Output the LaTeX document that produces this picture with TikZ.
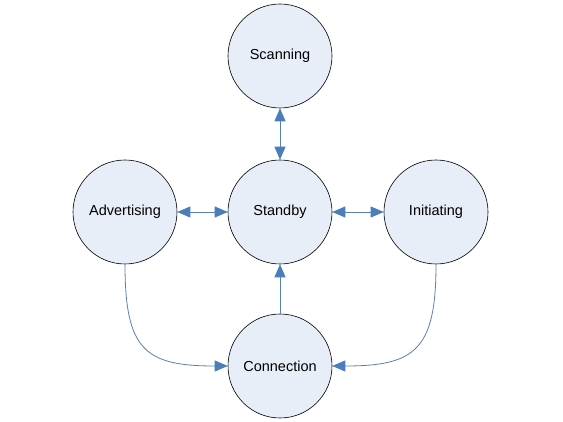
\documentclass[tikz,border=0pt]{standalone}
\usepackage{fontspec}
\setmainfont{Liberation Sans}
\usetikzlibrary{arrows.meta}
\definecolor{statefill}{HTML}{E8EEF8}
\definecolor{arrowblue}{HTML}{4A7EBB}
\definecolor{linkblue}{HTML}{5A80B0}
\begin{document}
\begin{tikzpicture}[x=1pt,y=-1pt,
  state/.style={circle,draw=black,line width=0.6pt,fill=statefill,minimum size=104pt,inner sep=0pt,font=\fontsize{14.5}{16}\selectfont},
  link/.style={draw=linkblue,line width=0.8pt},
  tip/.style={-{Triangle[length=13pt,width=11pt,fill=arrowblue,color=arrowblue]}},
  both/.style={{Triangle[length=13pt,width=11pt,fill=arrowblue,color=arrowblue]}-{Triangle[length=13pt,width=11pt,fill=arrowblue,color=arrowblue]}}]
\useasboundingbox (0,0) rectangle (563,422);
\node[state] (scan) at (280,56) {Scanning};
\node[state] (stand) at (280,212) {Standby};
\node[state] (adv) at (125,212) {Advertising};
\node[state] (init) at (436,212) {Initiating};
\node[state] (conn) at (280,366) {Connection};
\draw[link,both] (scan) -- (stand);
\draw[link,both] (adv) -- (stand);
\draw[link,both] (stand) -- (init);
\draw[link,tip] (conn) -- (stand);
\draw[link,tip] (adv.south) .. controls (125,350) and (145,366) .. (conn.west);
\draw[link,tip] (init.south) .. controls (436,350) and (415,366) .. (conn.east);
\end{tikzpicture}
\end{document}
